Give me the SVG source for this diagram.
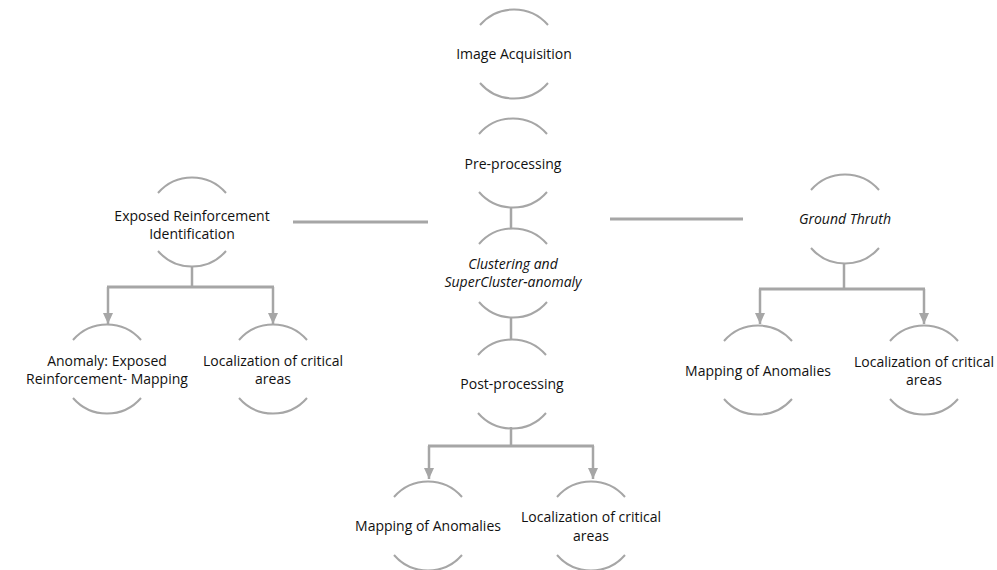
<svg xmlns="http://www.w3.org/2000/svg" width="997" height="570" viewBox="0 0 997 570">
<defs>
<style>
.arc{fill:none;stroke:#a6a6a6;stroke-width:2}
.ln{fill:none;stroke:#a6a6a6;stroke-width:3}
.lv{fill:none;stroke:#a6a6a6;stroke-width:2.5}
text{font-family:"Open Sans","Liberation Sans",Arial,sans-serif;font-size:14px;fill:#111111;text-anchor:middle}
.it{font-style:italic}
</style>
<marker id="ah" markerUnits="userSpaceOnUse" markerWidth="12" markerHeight="12" viewBox="0 0 12 12" refX="11" refY="6" orient="auto">
<path d="M0,1 L11,6 L0,11 Z" fill="#a6a6a6"/>
</marker>
<path id="top" class="arc" d="M-34,-29 A45,45 0 0 1 34,-29"/>
<path id="bot" class="arc" d="M-34,29 A45,45 0 0 0 34,29"/>
</defs>
<rect width="997" height="570" fill="#ffffff"/>
<g id="connectors">
<line class="lv" x1="511" y1="208" x2="511" y2="229"/>
<line class="lv" x1="511" y1="318" x2="511" y2="339"/>
<line class="lv" x1="511" y1="427" x2="511" y2="446"/>
<line class="ln" x1="428" y1="446" x2="594" y2="446"/>
<line class="lv" x1="429" y1="446" x2="429" y2="479" marker-end="url(#ah)"/>
<line class="lv" x1="593" y1="446" x2="593" y2="479" marker-end="url(#ah)"/>
<line class="lv" x1="192" y1="267" x2="192" y2="287"/>
<line class="ln" x1="107" y1="287" x2="274" y2="287"/>
<line class="lv" x1="108" y1="287" x2="108" y2="324" marker-end="url(#ah)"/>
<line class="lv" x1="273" y1="287" x2="273" y2="324" marker-end="url(#ah)"/>
<line class="ln" x1="293" y1="222" x2="428" y2="222"/>
<line class="ln" x1="610" y1="219" x2="743" y2="219"/>
<line class="lv" x1="844" y1="264" x2="844" y2="289"/>
<line class="ln" x1="759" y1="289" x2="925" y2="289"/>
<line class="lv" x1="760" y1="289" x2="760" y2="324" marker-end="url(#ah)"/>
<line class="lv" x1="924" y1="289" x2="924" y2="324" marker-end="url(#ah)"/>
</g>
<g id="n-image-acquisition" transform="translate(514,54)">
<use href="#top"/><use href="#bot"/>
<text x="0" y="5">Image Acquisition</text>
</g>
<g id="n-pre-processing" transform="translate(513,163)">
<use href="#top"/><use href="#bot"/>
<text x="0" y="6">Pre-processing</text>
</g>
<g id="n-clustering" transform="translate(513,273)">
<use href="#top"/><use href="#bot"/>
<text class="it" x="0" y="-4">Clustering and</text>
<text class="it" x="0" y="14">SuperCluster-anomaly</text>
</g>
<g id="n-post-processing" transform="translate(512,384)">
<use href="#top"/><use href="#bot"/>
<text x="0" y="5">Post-processing</text>
</g>
<g id="n-mapping-bottom" transform="translate(428,526)">
<use href="#top"/><use href="#bot"/>
<text x="0" y="5">Mapping of Anomalies</text>
</g>
<g id="n-localization-bottom" transform="translate(591,526)">
<use href="#top"/><use href="#bot"/>
<text x="0" y="-4">Localization of critical</text>
<text x="0" y="15">areas</text>
</g>
<g id="n-exposed" transform="translate(192,222)">
<use href="#top"/><use href="#bot"/>
<text x="0" y="-1">Exposed Reinforcement</text>
<text x="0" y="17">Identification</text>
</g>
<g id="n-anomaly-mapping" transform="translate(107,369)">
<use href="#top"/><use href="#bot"/>
<text x="0" y="-3">Anomaly: Exposed</text>
<text x="0" y="15">Reinforcement- Mapping</text>
</g>
<g id="n-localization-left" transform="translate(273,369)">
<use href="#top"/><use href="#bot"/>
<text x="0" y="-3">Localization of critical</text>
<text x="0" y="15">areas</text>
</g>
<g id="n-ground-truth" transform="translate(845,219)">
<use href="#top"/><use href="#bot"/>
<text class="it" x="0" y="5">Ground Thruth</text>
</g>
<g id="n-mapping-right" transform="translate(758,370)">
<use href="#top"/><use href="#bot"/>
<text x="0" y="6">Mapping of Anomalies</text>
</g>
<g id="n-localization-right" transform="translate(924,370)">
<use href="#top"/><use href="#bot"/>
<text x="0" y="-3">Localization of critical</text>
<text x="0" y="15">areas</text>
</g>
</svg>
